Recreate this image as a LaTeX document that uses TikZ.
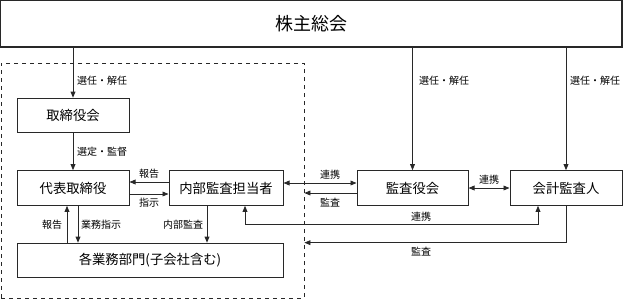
\documentclass[tikz,border=0pt]{standalone}
\usepackage{fontspec}
\setmainfont{Noto Sans CJK JP}
\usetikzlibrary{arrows.meta,positioning,calc}
\definecolor{clrLine}{RGB}{40,40,40}
\tikzset{
  orgbox/.style={rectangle,draw=clrLine,line width=0.75pt,
    font=\fontsize{10pt}{12pt}\selectfont,minimum height=26pt,inner sep=0pt},
  topbox/.style={orgbox,line width=0.9pt,minimum width=466.5pt,minimum height=35.25pt,
    font=\fontsize{13.5pt}{16pt}\selectfont},
  unitbox/.style={orgbox,minimum width=84pt},
  groupbox/.style={rectangle,draw=clrLine,dashed,line width=0.6pt,inner sep=0pt},
  arrow/.style={-{Triangle[length=4.5pt,width=3.6pt]},line width=0.6pt,draw=clrLine},
  twoway/.style={{Triangle[length=4.5pt,width=3.6pt]}-{Triangle[length=4.5pt,width=3.6pt]},
    line width=0.6pt,draw=clrLine},
  tag/.style={font=\fontsize{7.5pt}{9pt}\selectfont,inner sep=1pt}
}

\begin{document}
\begin{tikzpicture}[x=0.75pt,y=-0.75pt]
  \useasboundingbox (0,0) rectangle (624,300);

  \node[topbox] (meeting) at (311,23.5) {株主総会};
  \node[groupbox,minimum width=227.25pt,minimum height=176.25pt] (group) at (152.5,180.5) {};

  \node[unitbox] (board) at (73,115.5) {取締役会};
  \node[unitbox] (ceo) at (73,188) {代表取締役};
  \node[unitbox,minimum width=85.5pt] (audit) at (226,188) {内部監査担当者};
  \node[unitbox,minimum width=83.25pt] (kansa) at (412.5,188) {監査役会};
  \node[unitbox] (kaikei) at (566,188) {会計監査人};
  \node[unitbox,minimum width=199.5pt] (dept) at (150,260.5) {各業務部門(子会社含む)};

  % appointment by the meeting
  \draw[arrow] (meeting.south -| board) -- (board.north);
  \node[tag] at (102,81) {選任・解任};
  \draw[arrow] (meeting.south -| kansa) -- (kansa.north);
  \node[tag] at (444,81) {選任・解任};
  \draw[arrow] (meeting.south -| kaikei) -- (kaikei.north);
  \node[tag] at (595,81) {選任・解任};

  \draw[arrow] (board) -- (ceo);
  \node[tag] at (102,152) {選定・監督};

  \draw[arrow] ([yshift=4.5pt]audit.west) -- ([yshift=4.5pt]ceo.east);
  \node[tag] at (149,174) {報告};
  \draw[arrow] ([yshift=-4.5pt]ceo.east) -- ([yshift=-4.5pt]audit.west);
  \node[tag] at (149,203) {指示};

  \coordinate (ceoL) at ([xshift=-4.5pt]ceo.south);
  \coordinate (ceoR) at ([xshift=3.75pt]ceo.south);
  \coordinate (auditL) at ([xshift=-14.25pt]audit.south);
  \draw[arrow] (ceoL |- dept.north) -- (ceoL);
  \node[tag] at (52,225) {報告};
  \draw[arrow] (ceoR) -- (ceoR |- dept.north);
  \node[tag] at (101,225) {業務指示};
  \draw[arrow] (auditL) -- (auditL |- dept.north);
  \node[tag] at (183,225) {内部監査};

  % auditors
  \draw[twoway] ([yshift=3.75pt]audit.east) -- ([yshift=3.75pt]kansa.west);
  \node[tag] at (330,175) {連携};
  \coordinate (kansaL) at ([yshift=-3.75pt]kansa.west);
  \draw[arrow] (kansaL) -- (kansaL -| group.east);
  \node[tag] at (330,203) {監査};
  \draw[twoway] (kansa) -- (kaikei);
  \node[tag] at (489,180) {連携};

  \coordinate (auditR) at ([xshift=14.25pt]audit.south);
  \coordinate (kaikeiL) at ([xshift=-21pt]kaikei.south);
  \draw[twoway] (auditR) -- ++(0,19) -| (kaikeiL);
  \node[tag] at (421,217) {連携};
  \draw[arrow] (kaikei.south) |- (group.east |- dept.north);
  \node[tag] at (421,252) {監査};
\end{tikzpicture}
\end{document}
